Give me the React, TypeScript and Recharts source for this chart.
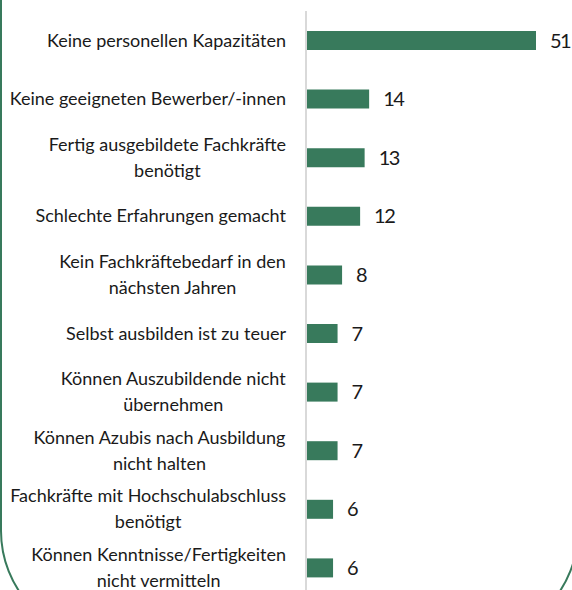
import { BarChart, Bar, XAxis, YAxis, LabelList } from 'recharts';

// categories (line breaks as in the original labels)
const categories = [
  'Keine personellen Kapazitäten',
  'Keine geeigneten Bewerber/-innen',
  'Fertig ausgebildete Fachkräfte\nbenötigt',
  'Schlechte Erfahrungen gemacht',
  'Kein Fachkräftebedarf in den\nnächsten Jahren',
  'Selbst ausbilden ist zu teuer',
  'Können Auszubildende nicht\nübernehmen',
  'Können Azubis nach Ausbildung\nnicht halten',
  'Fachkräfte mit Hochschulabschluss\nbenötigt',
  'Können Kenntnisse/Fertigkeiten\nnicht vermitteln',
];

const values = [51, 14, 13, 12, 8, 7, 7, 7, 6, 6];

const data = categories.map((name, i) => ({ name, value: values[i] }));

const GREEN = '#387a5c';
const FONT = 'Lato, sans-serif';
const LABEL_SIZE = 18;

let ctx: CanvasRenderingContext2D | null = null;
function measure(text: string) {
  if (!ctx) ctx = document.createElement('canvas').getContext('2d');
  if (!ctx) return text.length * 8;
  ctx.font = `${LABEL_SIZE}px Lato`;
  return ctx.measureText(text).width;
}

function CategoryTick(props: any) {
  const { x, y, payload } = props;
  const lines: string[] = String(payload.value).split('\n');
  const right = x - 12;
  const maxW = Math.max(...lines.map(measure));
  const lineH = 26;
  const startY = y - ((lines.length - 1) * lineH) / 2;
  return (
    <g>
      {lines.map((line, i) => (
        <text
          key={i}
          x={right - maxW / 2}
          y={startY + i * lineH}
          dy="0.35em"
          textAnchor="middle"
          fill="#1a1a1a"
          fontSize={LABEL_SIZE}
          fontFamily={FONT}
        >
          {line}
        </text>
      ))}
    </g>
  );
}

export default function App() {
  return (
    <div
      style={{
        position: 'absolute',
        left: 0,
        top: 0,
        width: 572,
        height: 590,
        overflow: 'hidden',
        background: '#fff',
      }}
    >
      <div
        style={{
          position: 'absolute',
          left: 0,
          top: -300,
          width: 575,
          height: 937,
          border: `2px solid ${GREEN}`,
          borderRadius: 110,
        }}
      />
      <div style={{ position: 'absolute', left: 0, top: 0 }}>
        <BarChart
          width={572}
          height={600}
          data={data}
          layout="vertical"
          margin={{ top: 11, right: 36, bottom: 3, left: 0 }}
          barSize={19}
        >
          <XAxis type="number" domain={[0, 51]} hide />
          <YAxis
            type="category"
            dataKey="name"
            width={306}
            axisLine={{ stroke: '#d9d9d9', strokeWidth: 2 }}
            tickLine={false}
            tick={<CategoryTick />}
            interval={0}
          />
          <Bar dataKey="value" fill={GREEN} isAnimationActive={false}>
            <LabelList
              dataKey="value"
              position="right"
              offset={14}
              fill="#1a1a1a"
              fontSize={20}
              fontFamily={FONT}
              letterSpacing={-1.5}
            />
          </Bar>
        </BarChart>
      </div>
    </div>
  );
}
